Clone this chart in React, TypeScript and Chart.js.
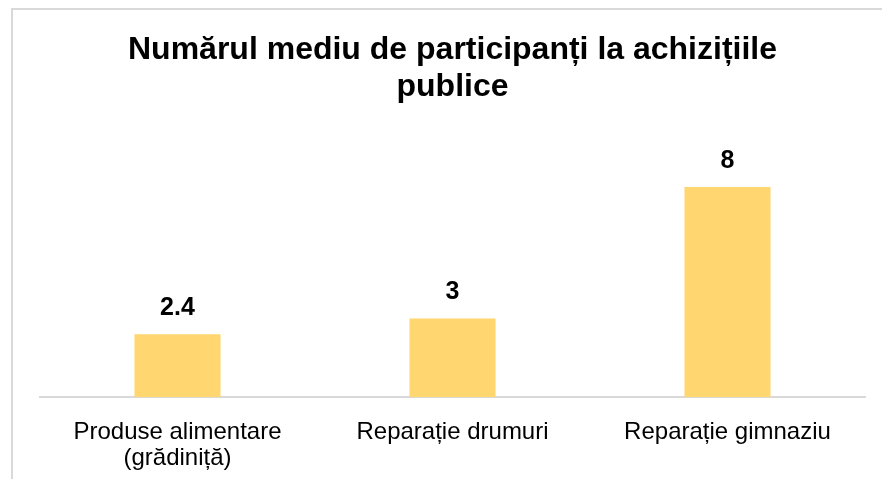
import React, { useEffect, useRef } from "react";
import { Chart, registerables } from "chart.js";

Chart.register(...registerables);

const titleLines = ["Numărul mediu de participanți la achizițiile", "publice"];
const categories: (string | string[])[] = [
  ["Produse alimentare", "(grădiniță)"],
  "Reparație drumuri",
  "Reparație gimnaziu",
];
const values = [2.4, 3, 8];
const yMax = 10;

const FONT = '"Liberation Sans", Arial, Helvetica, sans-serif';

const dataLabels = {
  id: "dataLabels",
  afterDatasetsDraw(chart: any) {
    const ctx = chart.ctx;
    const meta = chart.getDatasetMeta(0);
    ctx.save();
    ctx.font = `bold 25px ${FONT}`;
    ctx.fillStyle = "#000";
    ctx.textAlign = "center";
    ctx.textBaseline = "alphabetic";
    meta.data.forEach((bar: any, i: number) => {
      ctx.fillText(String(values[i]), bar.x, bar.y - 19);
    });
    ctx.restore();
  },
};

export default function App() {
  const ref = useRef<HTMLCanvasElement>(null);
  useEffect(() => {
    document.body.style.margin = "0";
    document.body.style.overflow = "hidden";
    const chart = new Chart(ref.current!, {
      type: "bar",
      data: {
        labels: categories,
        datasets: [
          {
            data: values,
            backgroundColor: "#FFD66F",
            borderWidth: 0,
            categoryPercentage: 1,
            barPercentage: 0.313,
          },
        ],
      },
      options: {
        responsive: false,
        animation: false,
        devicePixelRatio: 1,
        layout: { padding: { left: 40, right: 17, top: 0, bottom: 6 } },
        plugins: {
          legend: { display: false },
          tooltip: { enabled: false },
          title: {
            display: true,
            text: titleLines,
            color: "#000",
            font: { family: FONT, size: 32, weight: "bold", lineHeight: 1.15 },
            padding: { top: 32, bottom: 29 },
          },
        },
        scales: {
          x: {
            grid: { display: false, drawTicks: false },
            border: { display: true, color: "#d9d9d9", width: 2 },
            ticks: {
              color: "#000",
              padding: 22,
              font: { family: FONT, size: 24, lineHeight: 1.1 },
              maxRotation: 0,
              autoSkip: false,
            },
          },
          y: {
            display: false,
            min: 0,
            max: yMax,
          },
        },
      },
      plugins: [dataLabels],
    });
    return () => chart.destroy();
  }, []);
  return (
    <div style={{ position: "relative", width: 882, height: 479, overflow: "hidden", background: "#fff" }}>
      <div
        style={{
          position: "absolute",
          left: 11,
          top: 8,
          width: 871,
          height: 471,
          boxSizing: "border-box",
          borderLeft: "2px solid #d9d9d9",
          borderTop: "2px solid #d9d9d9",
        }}
      />
      <canvas
        ref={ref}
        width={882}
        height={500}
        style={{ position: "absolute", left: 0, top: 0, width: 882, height: 500 }}
      />
    </div>
  );
}
